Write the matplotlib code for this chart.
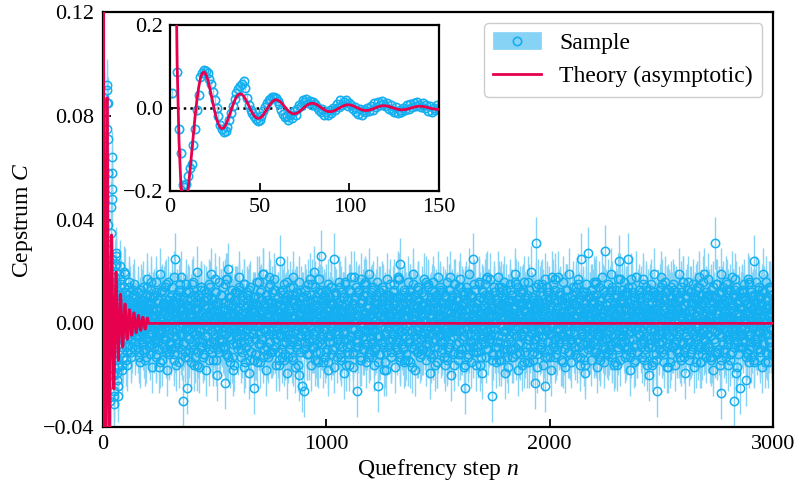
import numpy as np
import matplotlib
matplotlib.use("Agg")
import matplotlib.pyplot as plt
from matplotlib.patches import Patch
from matplotlib.lines import Line2D
from matplotlib.ticker import FuncFormatter

plt.rcParams["font.family"] = ["Liberation Serif", "DejaVu Serif"]
plt.rcParams["mathtext.fontset"] = "custom"
plt.rcParams["mathtext.rm"] = "Liberation Serif"
plt.rcParams["mathtext.it"] = "Liberation Serif:italic"

blue = "#14aff0"
light_blue = "#86d3f6"
red = "#e6004e"

# sample cepstrum for n = 1..150, in units of 1e-3
head_milli = [
    35, 230, 215, 87, -50, -110, -187, -192, -185, -165,
    -145, -135, -90, -50, -6, 31, 75, 85, 92, 90,
    85, 71, 58, 38, 18, 0, -20, -42, -52, -58,
    -56, -45, -30, -12, 5, 22, 35, 45, 52, 58,
    64, 48, 25, 8, -4, -12, -20, -26, -31, -28,
    -20, -8, 3, 12, 18, 22, 26, 27, 23, 16,
    9, -6, -14, -22, -19, -28, -17, -24, -8, -16,
    -3, 8, 4, 19, 14, 22, 11, 17, 6, 15,
    10, 2, -5, -11, -2, -16, -9, -18, -6, -13,
    1, -4, 9, 3, 20, 8, 14, 19, 5, 12,
    7, -3, 2, -9, -14, -2, -16, -6, -11, -1,
    -8, 5, -4, 11, 3, 14, 6, 16, 9, 4,
    12, -2, 7, -6, -11, 3, -13, -4, -9, 1,
    -6, 6, -2, 10, 2, 13, 5, 15, 8, 3,
    11, -1, 6, -7, 4, -10, 0, -5, 6, -3,
]

# sample cepstrum for n = 153, 156, ..., 3000 (units of 1e-3)
tail_a_milli = [
    4, -9, 12, -3, 7, -15, 1, 9, -6, 14, -11, 2, -1, 8, -13, 17, -4, 6, 10, -8, -2, 13, -17, 5, 0,
    -7, 11, 3, -12, 16, -5, 9, -1, -10, 6, 19, -4, 2, -14, 8, -9, 12, 0, -6, 15, -18, 3, 7, -11, 10,
    1, -8, 14, -3, 9, -12, 25, 5, -16, 2, 11, -7, 13, -1, 6, -10, 18, -5, 3, -30, 8, -13, 4, 15, -25,
    7, -2, -11, 12, 3, -15, 9, 0, 16, -8, -4, 10, -13, 5, 20, -6, 1, -17, 11, -3, 8, 14, -9, 2, -12,
    13, -5, 6, -18, 3, 10, -1, 15, -10, 4, -7, 19, -3, 9, -14, 1, 12, -8, 7, -20, 5, -2, 16, -11, 0,
    -6, 11, 2, -9, 14, -4, -23, 8, -12, 3, 17, 21, -5, 10, -15, 6, -1, 13, -8, 4, -16, 9, 1, -3, 12,
    -10, 5, 18, -7, 2, -13, 11, -2, 7, -17, 15, 0, -9, 4, 12, -6, 9, -19, 3, 14, -11, 6, -4, 10, -14,
    -25, 8, 3, -12, 16, -1, 10, -8, 5, -15, 13, 2, -6, 19, -10, 7, -3, 11, -18, 4, 9, -13, 1, 15, -7,
    6, -11, 12, -4, 2, 17, -9, 8, -16, 3, 10, -2, -14, 24, -5, 7, 13, -10, 1, -7, 15, -12, 4, 9, -19,
    11, -3, 5, 14, -8, 0, -13, 9, 18, -6, 2, -17, 12, -1, 7, -10, 16, 3, -11, 6, -4, -24, 10, 1, -26,
    8, 13, -5, 2, -12, 15, -7, 4, -1, 11, -16, 6, 9, -9, 20, -3, -14, 7, 1, -8, 12, -2, 17, -11, 3,
    26, -6, 9, -15, 4, 10, -2, 13, -10, 5, -18, 1, 8, -4, 14, -12, 7, 0, -7, 25, -9, 3, 11, -13, 6,
    -1, 16, -8, 4, 12, -14, 7, -3, 10, -19, 2, 15, -6, 9, -11, 0, 13, -16, 5, -5, 18, -2, 8, -12, 1,
    10, -7, 14, -26, 3, 12, -4, 6, -13, 17, -1, 9, -10, 2, 15, -8, 4, -15, 11, -3, 7, 19, -12, 0, -6,
    13, -2, 5, -16, 8, 1, 11, -9, 16, -24, 6, -5, 12, -12, 3, 14, -7, 9, -18, 2, 10, -4, -11, 17, 4,
    -9, 7, 1, 15, -13, 4, -6, 12, -2, 9, -17, 10, 3, -10, 18, -4, 6, -14, 23, -1, 11, -8, 2, -15, 13,
    5, -12, 10, -3, 16, -7, 0, 13, -15, 8, 2, -9, 19, -5, 11, -18, 4, 7, -11, 14, -1, 9, -13, 3, -6,
    12, 1, -10, 17, -4, 8, -14, 6, -2, 15, -8, 3, -19, 10, 0, 13, -12, 5, 9, -6, -16, 11, 2, -3, 18,
    -5, 9, 14, -11, 3, -7, 12, -1, 6, -16, 10, -4, 16, -13, 2, 8, -9, 13, -20, 4, 11, 0, -12, 7, -2,
    15, -8, 2, 10, -14, 6, -3, 17, -10, 1, 12, -6, 8, -17, -25, 5, 14, -2, 9, -12, 3, 19, -7, 11, -15,
    0, 25, -9, 6, -4, 13, -16, 8, 2, -11, 16, -1, 10, -8, 4, -19, 12, -5, 7, 15, -13, 1, -3, 9, -10,
    11, -6, 17, 3, -28, 7, -12, 14, -2, 5, -15, 9, 1, 18, -9, 4, -7, 12, -14, 6, 10, -3, 16, -11, 2,
    -8, 13, 0, -17, 9, 4, -10, 15, -5, 11, -13, 2, 7, -4, 19, -12, 6, -1, 14, -18, 3, 10, -7, 8, -16,
    12, -3, 5, 16, -11, 1, 9, -15, 7, -6, 13, -9, 3, 20, -2, 10, -14, 6, -8, -23, 31, 4, -12, 15, -5,
    8, -10, 14, 2, -7, 11, -16, 5, -24, 17, -1, 9, -13, 3, 12, -4, 7, -18, 10, 0, -9, 15, -6, 4, 13,
    -12, 6, -2, 18, -8, 3, 11, -14, 9, -5, 16, 1, -10, 7, -17, 13, -3, 10, 2, -11, 19, -6, 5, -15, 8,
    3, 14, -9, 7, -1, 12, -13, 5, 17, -7, 10, -16, 25, -4, 2, 11, -11, 8, -19, 6, 15, -2, -8, 27, 1,
    -6, 10, 4, -14, 13, -3, 8, 16, -10, 1, 11, -17, 6, -5, 14, -12, 3, 9, -1, 18, -9, 5, -15, 28, 0,
    7, -11, 15, -4, 2, 12, -8, 19, -13, 6, -2, 10, -16, 4, 13, -7, 1, 17, -10, 24, 8, -14, 3, 11, -5,
    -3, 16, -9, 6, 11, -12, 2, 14, 25, -6, 9, -18, 4, 12, -1, 7, -15, 10, 3, -8, 18, -11, 5, -4, 13,
    9, -5, 12, -13, 1, 17, -7, 6, -10, 14, 3, -16, 8, 11, -20, 4, -2, 15, -9, 10, -12, 0, 19, -6, 7,
    -14, -26, 10, 5, -8, 13, -3, 18, -11, 2, 9, -15, 16, -1, 6, -9, 12, -17, 4, 11, -5, 14, -12, 3, 8,
    15, -7, 1, -16, 11, 6, -10, 9, -3, 19, -13, 4, 12, -8, 2, 16, -11, 7, -19, 10, -2, 13, -6, 5, -14,
    2, 12, -11, 8, -4, 15, -17, 3, 10, -6, 14, -1, -12, 18, -9, 5, 11, -15, 7, -3, 16, -10, 1, 9, -13,
    11, -4, 17, -9, 3, 8, -14, 13, -2, 6, -18, 10, 31, -7, 4, 15, -12, 1, 12, -10, 7, 19, -27, -5, 14,
    -8, 9, 2, -13, 16, -3, 11, -16, 5, 13, -6, 0, 18, -11, 7, -30, 10, -1, 14, -19, 4, 8, -9, 12, -4,
    -25, 6, 13, -7, 10, -2, 15, 1, -22, 9, -12, 4, 17, -15, 7, -5, 12, -9, 3, 11, -14, 24, -6, 8, 16,
    -10, 5, -3, 14, -13, 2, 10, -17, 7, 19, -8, 12, 0, -11, 16, -4, 9, -15, 6, 13, -7, 1, -12, 11, -2,
]

# sample cepstrum for n = 151, 154, ..., 2998 (units of 1e-3)
tail_b_milli = [
    -3, 6, 2, -11, -5, 8, 13, 0, -7, -2, 4, 9, -14, 3, -6, -1, 11, 5, -9, 7, -4, 1, 16, -8, 2,
    10, -1, -6, 3, -13, 5, 0, 8, -3, -17, 6, 12, -2, 4, -8, 1, -5, 14, 7, -10, 3, -1, 9, -4, -12,
    5, 2, -7, 11, -3, 0, 18, -9, 4, -6, 1, -2, 8, -15, 6, 12, -4, 3, -1, -8, 10, 5, -11, 2, 7,
    -5, 9, -13, 1, 4, -2, 6, -7, 15, 3, -10, 0, 8, -4, 2, -16, 11, 6, -3, 1, -9, 13, 4, -6, 0,
    7, -12, 3, 10, -1, -5, 2, 9, -8, 4, 14, -3, -11, 6, 0, 5, -7, -2, 12, -14, 3, 8, -1, 4, -9,
    2, 11, -6, -3, 8, 1, -10, 5, 17, -4, 0, 7, -13, 3, -2, 10, -6, 1, 4, -18, 9, -1, 6, -5, 12,
    -8, 3, 0, 13, -4, 6, -1, -11, 2, 9, -7, 15, 4, -3, -9, 1, 7, 11, -5, 2, -14, 5, 0, 8, -2,
    4, -6, 10, -1, 3, -15, 7, 2, -4, 12, 0, -8, 5, -2, 19, -10, 1, 6, -3, 9, -12, 3, -7, 14, 1,
    -11, 5, 8, -2, 0, 6, -9, 13, -4, 2, -1, 10, -16, 4, 7, -5, 3, -13, 11, 0, 6, -3, 9, -7, 2,
    16, -4, 1, -10, 5, 3, -6, 11, 0, -14, 8, 2, -3, 6, -8, 12, -1, 4, -20, 7, 1, -5, 10, -2, 3,
    -7, 13, -3, 2, 9, -12, 0, 5, -6, 17, -2, 8, -9, 1, 4, -4, 14, -11, 3, 6, -1, -15, 7, 2, -5,
    9, 0, -8, 4, -2, 11, -13, 6, 1, -5, 3, 15, -7, -1, 10, -3, 2, -10, 7, 4, -17, 12, -4, 5, 0,
    -6, 8, 3, -12, 14, -1, 5, -9, 2, 10, -4, 0, 7, -16, 3, 9, -6, 1, 13, -8, 4, -2, 6, -11, 18,
    1, -9, 6, 2, -4, 12, -7, 3, -14, 8, 0, 5, -3, 11, -10, 4, 16, -2, -6, 7, -1, 9, -13, 3, -5,
    12, -3, -8, 5, 1, -11, 9, 4, -2, 7, -15, 0, 10, -5, 3, -1, 6, -9, 13, 2, -7, 4, -18, 8, 1,
    -2, 6, 11, -7, 3, -13, 0, 8, -4, 15, -1, -9, 5, 2, -6, 10, -3, 17, -12, 4, 1, -5, 7, -10, 3,
    8, -14, 2, 5, -1, 9, -6, 0, 12, -3, 4, -17, 7, 1, -8, 3, 11, -4, 6, -2, 14, -9, 0, 5, -12,
    3, 7, -5, -1, 10, -8, 4, 16, -2, 1, -11, 6, -4, 9, 2, -13, 5, 0, -7, 12, -3, 8, -1, -15, 6,
    -9, 2, 13, -4, 6, 0, -10, 3, 8, -6, 11, -2, 1, -14, 5, 7, -3, 18, -8, 2, -1, 10, -5, 4, -16,
    6, -3, 1, 9, -12, 4, -7, 14, 0, -2, 5, -10, 8, 3, -5, 12, -1, -9, 2, 6, -13, 1, 11, -4, 7,
    -1, 10, -7, 3, 15, -5, 2, -11, 6, 0, -3, 9, -16, 4, 1, -6, 13, -2, 7, -8, 3, 17, -10, 0, 5,
    11, -6, 4, -2, 8, -14, 1, 6, -4, 12, -9, 3, 0, -7, 10, 5, -12, 2, -1, 14, -5, 7, -3, 9, -19,
    2, 5, -10, 7, -1, 3, -6, 13, -3, 0, 9, -13, 4, 6, -2, -9, 15, 1, -5, 8, -11, 2, 12, -4, 0,
    -4, 8, 1, -15, 5, 10, -2, 3, -8, 16, 0, -5, 7, -1, 4, -12, 9, 2, -6, 11, -3, 5, -17, 6, 1,
    7, -2, 12, -9, 0, 4, -5, 8, 2, -13, 6, 1, -3, 14, -7, 3, -10, 5, 0, -4, 18, -8, 2, 9, -6,
    -13, 4, 0, 6, -2, 11, -7, 1, 9, -4, 3, -15, 8, 2, -6, 13, -1, 4, -11, 7, 0, -3, 10, -8, 5,
    1, 9, -4, 2, -12, 7, 3, -6, 15, 0, -9, 5, -2, 11, -5, 1, 6, -14, 4, -1, 8, 12, -7, 3, -10,
    6, -8, 3, 13, -1, -5, 9, 0, -11, 4, 2, 16, -6, 7, -3, 1, -13, 5, 10, -2, -7, 4, 0, 12, -9,
    -3, 11, -6, 1, 5, -10, 2, 8, -4, 14, -12, 3, 0, 7, -7, 10, -1, -16, 6, 2, -4, 9, -8, 4, 13,
    0, -5, 8, -13, 3, 6, -2, 12, -9, 1, 5, -3, 17, -11, 4, 0, -6, 9, 2, -14, 7, -1, 3, 11, -4,
    5, 2, -9, 7, -3, 15, -6, 0, 4, -12, 10, -1, 6, 3, -8, 1, 13, -5, -2, 8, -15, 4, 11, -3, 0,
    -12, 6, 3, -1, 9, -7, 2, 14, -4, 0, -10, 7, 5, -2, 12, -6, 1, -17, 8, 3, -5, 10, -1, 6, -9,
    4, -3, 13, -8, 1, 5, -11, 7, 0, 10, -4, 3, -14, 6, 2, -7, 16, -1, 4, -9, 11, 0, -6, 8, 2,
    -7, 12, -2, 5, -10, 1, 8, -4, 3, -15, 9, 6, -1, -8, 14, 2, -5, 7, -12, 0, 4, -3, 19, -6, 1,
    10, -4, 1, -9, 6, 3, -13, 11, -2, 5, 0, -6, 8, -11, 2, 15, -3, 4, -1, 9, -16, 7, -5, 2, 12,
    -2, 7, -11, 4, 0, 13, -5, 2, -8, 9, 3, -14, 6, 1, -4, 11, -9, 5, 17, -3, 0, -7, 8, -12, 4,
    3, -9, 6, 12, -4, 1, -6, 9, 2, -13, 7, 0, -3, 15, -10, 4, 1, -7, 10, -2, 6, -15, 3, 8, -1,
    -6, 4, 10, -3, 1, -11, 7, -1, 13, 5, -8, 2, -4, 9, 0, -12, 6, 3, -7, 14, -2, 1, -9, 5, 8,
]

# sample cepstrum for n = 152, 155, ..., 2999 (units of 1e-3)
tail_c_milli = [
    2, -5, 9, 1, -13, 6, -3, 0, 11, -8, 4, 7, -2, -10, 5, 14, -6, 3, -1, 8, -12, 2, 6, -4, 10,
    -9, 3, -1, 12, 5, -7, 0, 9, -4, 2, -15, 6, 13, -3, 1, -6, 8, 4, -11, 0, 7, -2, 16, -8, 3,
    6, -10, 4, -2, 8, 1, -14, 7, 3, -5, 10, -1, -8, 2, 15, -4, 0, 6, -12, 9, 3, -7, 1, 12, -3,
    -1, 7, 13, -6, 0, 4, -9, 2, -3, 11, 6, -16, 5, 1, -4, 9, -11, 3, 8, -2, 0, 14, -7, 4, -13,
    9, -2, 3, -8, 12, -5, 1, 6, -14, 4, 0, 10, -3, 7, -9, 2, 17, -4, 1, -10, 5, 8, -6, 0, 3,
    -4, 11, -7, 2, 6, -1, 15, -9, 3, 0, -12, 5, 8, -3, 1, 10, -6, -13, 4, 7, -2, 12, 0, -8, 5,
    1, -6, 8, 14, -3, 2, -10, 4, 0, 9, -5, 1, -15, 6, 11, -2, 3, -7, 13, -1, 5, -11, 7, 2, -4,
    10, 3, -12, 5, -1, 7, 0, -8, 16, -3, 2, -6, 9, 4, -13, 1, 6, -2, 11, -9, 0, 5, -4, 18, -7,
    -3, 8, 1, -10, 4, 13, -6, 2, -1, 7, -11, 5, 0, -4, 12, 3, -8, 9, -2, -14, 6, 1, 10, -5, 3,
    5, -13, 7, 0, -4, 9, 2, -7, 14, -1, 3, 11, -9, 6, -2, 1, -16, 8, 4, -5, 12, -3, 0, 6, -10,
    2, 6, -3, 11, -8, 0, 5, -12, 3, 9, -1, -6, 15, 4, -9, 7, 1, -3, 10, -14, 2, 5, -7, 13, 0,
    -8, 1, 12, -4, 7, -2, 3, -11, 9, 0, 5, -15, 6, 2, -5, 14, -1, 8, -10, 3, -3, 11, 4, -6, 1,
    7, -4, 0, 9, -13, 5, 2, -1, 10, -7, 16, -3, 4, -9, 1, 6, -12, 3, 0, 12, -5, 7, -2, -17, 9,
    -2, 10, -6, 3, 1, -9, 13, -4, 6, 2, -14, 8, 0, -5, 11, 4, -3, 15, -8, 1, 6, -11, 3, 9, -1,
    4, -7, 2, 14, -3, 6, -10, 1, 8, -5, 0, 12, -12, 3, 7, -1, -8, 5, 10, -4, 2, -15, 6, 0, 11,
    -6, 3, 9, -1, -11, 5, 0, 7, -4, 13, -8, 2, 4, -2, 17, -7, 1, 10, -13, 6, -3, 8, -9, 2, 5,
    12, -1, -5, 8, 3, -14, 6, 0, -7, 10, 2, -3, 15, -10, 4, 1, -6, 9, -2, 13, -11, 5, 0, -4, 7,
    -10, 4, 7, -3, 11, 1, -8, 5, -1, 14, -6, 3, 0, -12, 8, 2, -4, 16, -9, 1, 6, -2, 10, -15, 3,
    5, -2, 12, -7, 0, 8, -4, 3, -13, 6, 1, 10, -5, 4, -1, -10, 13, 2, -6, 9, 0, -3, 7, 15, -11,
    -1, 9, -8, 4, 6, -3, 14, -12, 2, 0, 7, -5, 11, -2, 3, -16, 8, 1, -4, 12, -9, 5, 0, -7, 10,
    3, -11, 5, 1, -6, 13, -2, 8, -9, 4, 0, 15, -4, 6, -13, 2, 9, -1, 5, -7, 11, -3, 1, 18, -5,
    -7, 2, 10, -4, 6, -12, 3, 0, 12, -2, 5, -9, 1, 8, -5, 14, -14, 4, -1, 7, 2, -10, 13, -3, 6,
    8, -3, 1, -13, 5, 9, -1, 4, -7, 11, 0, 6, -10, 3, -2, 16, -5, 1, 9, -8, 4, -1, -12, 7, 2,
    -5, 13, -2, 6, 0, -9, 4, 11, -6, 2, -15, 7, 3, -1, 10, -4, 5, -11, 8, 0, 14, -6, 2, -3, 9,
    1, -8, 6, -2, 15, -5, 3, 0, -11, 8, 4, -3, 12, -7, 1, 9, -13, 5, -1, 6, -4, 11, -9, 2, 17,
    -3, 5, -10, 9, 1, -6, 12, -2, 4, -14, 7, 0, -5, 10, 3, -8, 2, 13, -4, -1, 8, -12, 6, 1, -7,
    11, 0, -4, 7, -9, 2, 14, -6, 3, -1, 9, -13, 5, 1, -3, 12, -8, 4, 0, -16, 6, 2, -5, 10, -2,
    4, -9, 8, 1, -3, 11, -7, 5, 0, 15, -11, 2, -4, 7, 9, -2, -14, 6, 3, -6, 13, -1, 4, -10, 0,
    -6, 7, 2, -12, 10, -3, 4, -8, 13, 1, -5, 6, 0, -15, 8, 3, -1, 11, -9, 5, -3, 17, -7, 2, -4,
    9, -2, -7, 5, 0, 12, -10, 3, -4, 8, 1, -13, 6, -1, 14, -6, 2, -9, 10, 4, -2, -11, 7, 0, 5,
    -4, 10, 3, -8, 6, -1, -14, 7, 2, -5, 13, 0, -9, 4, 1, 11, -6, 3, -16, 8, 5, -2, 12, -7, 1,
    6, -5, 11, 0, -10, 4, 8, -3, 15, -7, 2, 1, -12, 9, -4, 6, 0, -8, 13, -1, 3, -15, 5, 10, -3,
    -9, 3, 1, 8, -4, 12, -6, 0, 5, -11, 9, -2, 14, -8, 3, -1, 7, -13, 4, 10, -5, 2, -7, 16, -1,
    5, -12, 7, -3, 2, 10, -8, 4, -1, 13, -5, 0, 9, -10, 6, 2, -15, 8, -4, 1, 11, -6, 3, -9, 12,
    -2, 4, -8, 11, 0, -5, 7, 2, -13, 6, 14, -3, 1, -7, 10, -11, 5, 0, 8, -4, -1, 12, -14, 6, 3,
    8, -1, 5, -10, 3, 15, -6, 1, 9, -4, -12, 7, 2, -2, 11, 0, -8, 13, -5, 4, 1, -17, 9, -3, 6,
    -5, 10, -2, 6, -9, 1, 12, -7, 4, 0, -11, 8, 3, 16, -4, 2, -13, 7, -1, 9, 5, -6, 0, 11, -8,
    2, -7, 13, -1, 5, -10, 3, 8, -5, 12, -3, 1, -15, 6, 0, 10, -4, 7, -9, 3, 14, -2, 4, -12, 1,
]
sample_err = 0.01

# asymptotic theory for n = 1..200, then flat
theory_vals = [
    1.50, 1.16, 0.44, 0.104, -0.078, -0.178, -0.227, -0.241, -0.229, -0.200,
    -0.159, -0.113, -0.065, -0.020, 0.019, 0.050, 0.072, 0.084, 0.087, 0.081,
    0.0687, 0.0514, 0.0311, 0.0101, -0.0096, -0.0266, -0.0393, -0.0473, -0.0501, -0.0479,
    -0.0414, -0.0315, -0.0194, -0.0064, 0.0062, 0.0174, 0.0262, 0.0318, 0.0341, 0.0330,
    0.0288, 0.0221, 0.0138, 0.0046, -0.0045, -0.0126, -0.0192, -0.0235, -0.0253, -0.0247,
    -0.0217, -0.0168, -0.0105, -0.0035, 0.0034, 0.0098, 0.0149, 0.0184, 0.0198, 0.0188,
    0.0165, 0.0127, 0.0079, 0.0027, -0.0026, -0.0073, -0.0110, -0.0134, -0.0143, -0.0138,
    -0.0122, -0.0095, -0.0059, -0.0020, 0.0020, 0.0055, 0.0084, 0.0103, 0.0112, 0.0109,
    0.0096, 0.0075, 0.0047, 0.0016, -0.0016, -0.0044, -0.0068, -0.0084, -0.0091, -0.0089,
    -0.0078, -0.0061, -0.0038, -0.0013, 0.0012, 0.0036, 0.0055, 0.0069, 0.0075, 0.0074,
    0.0066, 0.0051, 0.0032, 0.0011, -0.0011, -0.0030, -0.0047, -0.0057, -0.0062, -0.0061,
    -0.0054, -0.0042, -0.0027, -0.0009, 0.0009, 0.0026, 0.0040, 0.0049, 0.0053, 0.0052,
    0.0046, 0.0036, 0.0023, 0.0008, -0.0008, -0.0022, -0.0034, -0.0043, -0.0046, -0.0045,
    -0.0041, -0.0032, -0.0020, -0.0007, 0.0007, 0.0019, 0.0030, 0.0037, 0.0041, 0.0040,
    0.0035, 0.0028, 0.0018, 0.0006, -0.0006, -0.0017, -0.0026, -0.0032, -0.0036, -0.0035,
    -0.0031, -0.0024, -0.0015, -0.0005, 0.0005, 0.0015, 0.0023, 0.0028, 0.0031, 0.0030,
    0.0027, 0.0021, 0.0013, 0.0004, -0.0004, -0.0013, -0.0020, -0.0024, -0.0027, -0.0027,
    -0.0024, -0.0018, -0.0012, -0.0004, 0.0004, 0.0011, 0.0018, 0.0021, 0.0024, 0.0024,
    0.0021, 0.0016, 0.0010, 0.0003, -0.0003, -0.0010, -0.0016, -0.0020, -0.0022, -0.0022,
    -0.0019, -0.0015, -0.0010, -0.0003, 0.0003, 0.0009, 0.0014, 0.0018, 0.0020, 0.0020,
]
theory_tail_n = [205, 3000]
theory_tail_vals = [0.0, 0.0]

n_head = np.arange(1, len(head_milli) + 1)
n_a = np.arange(153, 153 + 3 * len(tail_a_milli), 3)
n_b = np.arange(151, 151 + 3 * len(tail_b_milli), 3)
n_c = np.arange(152, 152 + 3 * len(tail_c_milli), 3)
n_s = np.concatenate([n_head, n_a, n_b, n_c])
c_s = np.array(head_milli + tail_a_milli + tail_b_milli + tail_c_milli) / 1000.0
order = np.argsort(n_s, kind="stable")
n_s, c_s = n_s[order], c_s[order]
n_t = np.concatenate([np.arange(1, len(theory_vals) + 1), theory_tail_n])
c_t = np.array(theory_vals + theory_tail_vals)


def fmt(digits):
    return FuncFormatter(lambda v, p: f"{v:.{digits}f}".replace("-", "\u2212"))


fig = plt.figure(figsize=(7.97, 4.87), dpi=100)
ax = fig.add_axes([0.129, 0.123, 0.841, 0.852])

ax.errorbar(n_s, c_s, yerr=sample_err, fmt="o", ms=6, mfc="none", mec=blue,
            mew=1.1, ecolor=light_blue, elinewidth=1, zorder=2)
ax.plot(n_t, c_t, color=red, lw=2, zorder=3)

ax.set_xlim(0, 3000)
ax.set_ylim(-0.04, 0.12)
ax.set_xticks([0, 1000, 2000, 3000])
ax.set_yticks([-0.04, 0.0, 0.04, 0.08, 0.12])
ax.yaxis.set_major_formatter(fmt(2))
ax.tick_params(direction="in", length=6, width=1.3, labelsize=16, pad=6)
for s in ax.spines.values():
    s.set_linewidth(1.6)
ax.set_xlabel("Quefrency step $n$", fontsize=17, labelpad=2)
ax.set_ylabel("Cepstrum $C$", fontsize=17, labelpad=6)

h_sample = (Patch(facecolor=light_blue, edgecolor=light_blue, lw=0.5),
            Line2D([], [], marker="o", ls="none", mfc="none", mec=blue, ms=6, mew=1.2))
h_theory = Line2D([], [], color=red, lw=2)
leg = ax.legend([h_sample, h_theory], ["Sample", "Theory (asymptotic)"],
                loc="upper right", fontsize=17, borderaxespad=0.45,
                handlelength=2.0, framealpha=1, edgecolor="#cccccc")

# inset: first 150 steps
axin = fig.add_axes([0.2133, 0.6084, 0.3375, 0.340])
m = n_s <= 150
axin.axhline(0, color="k", ls=":", lw=1.8, zorder=1)
axin.errorbar(n_s[m], c_s[m], yerr=sample_err, fmt="o", ms=6, mfc="none", mec=blue,
              mew=1.2, ecolor=light_blue, elinewidth=1, zorder=2)
axin.plot(n_t, c_t, color=red, lw=2, zorder=3)
axin.set_xlim(0, 150)
axin.set_ylim(-0.2, 0.2)
axin.set_xticks([0, 50, 100, 150])
axin.set_yticks([-0.2, 0.0, 0.2])
axin.yaxis.set_major_formatter(fmt(1))
axin.tick_params(direction="in", length=6, width=1.3, labelsize=16, pad=5)
for s in axin.spines.values():
    s.set_linewidth(1.6)

fig.savefig("out.png", dpi=100)
